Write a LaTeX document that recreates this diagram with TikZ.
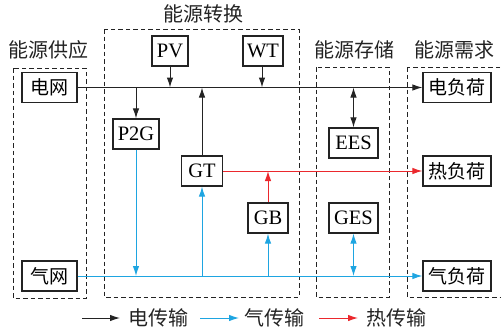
\documentclass[tikz,border=0pt]{standalone}
\usepackage{fontspec}
\setmainfont{Liberation Serif}
\newfontfamily\cjk{Noto Sans CJK SC}
\usetikzlibrary{arrows.meta}
\definecolor{gasblue}{RGB}{30,165,225}
\definecolor{heatred}{RGB}{235,40,45}
\definecolor{linegray}{RGB}{35,35,35}
\begin{document}
\begin{tikzpicture}[x=1pt,y=-1pt,
  unit/.style={draw=linegray,line width=1.2pt,minimum height=30pt,inner sep=0pt,
    font=\fontsize{20.5}{24}\selectfont},
  load/.style={unit,minimum width=68pt,font=\cjk\fontsize{19}{24}\selectfont},
  title/.style={font=\cjk\fontsize{20}{24}\selectfont,text=linegray,inner sep=0pt},
  group/.style={draw=linegray,line width=1pt,dash pattern=on 4.5pt off 3pt},
  tip/.style={-{Latex[length=10pt,width=6.5pt]}},
  dtip/.style={{Latex[length=10pt,width=6.5pt]}-{Latex[length=10pt,width=6.5pt]}},
  ele/.style={tip,draw=linegray,line width=1pt},
  gas/.style={tip,draw=gasblue,line width=1pt},
  heat/.style={tip,draw=heatred,line width=1pt}]
\useasboundingbox (0,0) rectangle (501,335);
% groups
\draw[group] (13,68) rectangle (86,298);
\draw[group] (104,29) rectangle (299,297);
\draw[group] (316,67) rectangle (389,297);
\draw[group] (407,67) rectangle (501,297);
\node[title] (t1) at (49,50) {能源供应};
\node[title] (t2) at (203,14) {能源转换};
\node[title] (t3) at (354,50) {能源存储};
\node[title] (t4) at (454,50) {能源需求};
% units
\node[unit,minimum width=55pt,font=\cjk\fontsize{19}{24}\selectfont] (grid) at (49.5,87.5) {电网};
\node[unit,minimum width=55pt,font=\cjk\fontsize{19}{24}\selectfont] (gnet) at (49.5,276) {气网};
\node[unit,minimum width=36pt] (pv) at (170,51) {PV};
\node[unit,minimum width=40pt] (wt) at (263,51) {WT};
\node[unit,minimum width=46pt] (p2g) at (136,134) {P2G};
\node[unit,minimum width=41pt] (gt) at (202,171) {GT};
\node[unit,minimum width=40pt] (gb) at (268,218) {GB};
\node[unit,minimum width=49pt] (ees) at (353.5,143) {EES};
\node[unit,minimum width=49pt] (ges) at (353.5,218) {GES};
\node[load] (eload) at (457,87.5) {电负荷};
\node[load] (hload) at (457,171) {热负荷};
\node[load] (gload) at (457,276) {气负荷};
% junctions
\coordinate (jpv) at (pv.south |- grid.east);
\coordinate (jwt) at (262,87.5);
\coordinate (jp2g) at (p2g.north |- grid.east);
\coordinate (jgt) at (gt.north |- grid.east);
\coordinate (jees) at (ees.north |- grid.east);
\coordinate (gp2g) at (p2g.south |- gnet.east);
\coordinate (ggt) at (gt.south |- gnet.east);
\coordinate (ggb) at (gb.south |- gnet.east);
\coordinate (gges) at (ges.south |- gnet.east);
\coordinate (hgb) at (gb.north |- gt.east);
% electric
\draw[ele] (grid.east) -- (eload.west);
\draw[ele] (pv.south) -- (jpv);
\draw[ele] (wt.south -| jwt) -- (jwt);
\draw[ele] (jp2g) -- (p2g.north);
\draw[ele] (gt.north) -- (jgt);
\draw[ele,dtip] (jees) -- (ees.north);
% gas
\draw[gas] (gnet.east) -- (gload.west);
\draw[gas] (p2g.south) -- (gp2g);
\draw[gas] (ggt) -- (gt.south);
\draw[gas] (ggb) -- (gb.south);
\draw[gas,dtip] (ges.south) -- (gges);
% heat
\draw[heat] (gt.east) -- (hload.west);
\draw[heat] (gb.north) -- (hgb);
% legend
\coordinate (l1a) at (82,318); \coordinate (l1b) at (120,318);
\coordinate (l2a) at (200,318); \coordinate (l2b) at (239,318);
\coordinate (l3a) at (319,318); \coordinate (l3b) at (358,318);
\draw[ele] (l1a) -- (l1b);
\draw[gas] (l2a) -- (l2b);
\draw[heat] (l3a) -- (l3b);
\node[title] (lg1) at (158,318) {电传输};
\node[title] (lg2) at (274,318) {气传输};
\node[title] (lg3) at (396,318) {热传输};
\end{tikzpicture}
\end{document}
